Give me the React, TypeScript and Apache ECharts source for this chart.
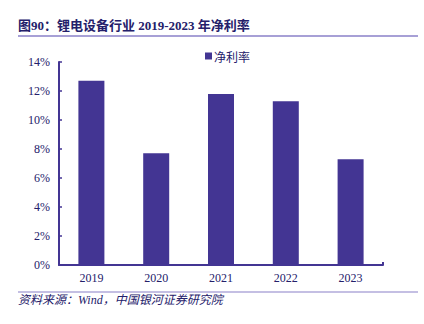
import React, { useEffect, useRef } from "react";
import * as echarts from "echarts";

const categories = ["2019", "2020", "2021", "2022", "2023"];
const netMargin = [12.7, 7.7, 11.8, 11.3, 7.3];
const seriesName = "净利率";
const titleText = "图90：锂电设备行业 2019-2023 年净利率";
const sourceText = "资料来源：Wind，中国银河证券研究院";

export default function App() {
  const ref = useRef<HTMLDivElement>(null);
  useEffect(() => {
    const chart = echarts.init(ref.current!, null, { renderer: "svg" });
    const textColor = "#24206a";
    const barColor = "#433593";
    const lineColor = "#8a80c8";
    chart.setOption({
      animation: false,
      backgroundColor: "#ffffff",
      legend: {
        data: [seriesName],
        top: 45,
        left: 200,
        itemWidth: 7,
        itemHeight: 7,
        itemGap: 2,
        icon: "rect",
        textStyle: { color: textColor, fontSize: 12, fontFamily: "Noto Sans CJK SC", padding: [0, 0, 0, -3] },
      },
      grid: { left: 59, right: 41, top: 62, bottom: 59, containLabel: false },
      xAxis: {
        type: "category",
        data: categories,
        axisLine: { lineStyle: { color: barColor, width: 2 } },
        axisTick: {
          show: true,
          inside: true,
          length: 3,
          interval: (i: number) => i === 2,
          lineStyle: { color: barColor, width: 2 },
        },
        axisLabel: { color: textColor, fontSize: 12, fontFamily: "Liberation Serif", margin: 7 },
      },
      yAxis: {
        type: "value",
        min: 0,
        max: 14,
        interval: 2,
        splitLine: { show: false },
        axisLine: { show: true, lineStyle: { color: barColor, width: 2 } },
        axisTick: { show: true, inside: true, length: 3, lineStyle: { color: barColor, width: 1.5 } },
        axisLabel: {
          color: textColor,
          fontSize: 12,
          fontFamily: "Liberation Serif",
          margin: 9,
          formatter: (v: number) => v + "%",
        },
      },
      series: [
        {
          name: seriesName,
          type: "bar",
          data: netMargin,
          barWidth: 26,
          itemStyle: { color: barColor },
        },
      ],
      graphic: [
        {
          type: "text",
          left: 18,
          top: 19,
          style: {
            text: titleText,
            fill: textColor,
            font: "bold 13px 'Liberation Serif', 'Noto Sans CJK SC'",
          },
        },
        {
          type: "line",
          shape: { x1: 18, y1: 36, x2: 418, y2: 36 },
          style: { stroke: lineColor, lineWidth: 1.5 },
        },
        {
          type: "line",
          shape: { x1: 18, y1: 292, x2: 418, y2: 292 },
          style: { stroke: lineColor, lineWidth: 1.2 },
        },
        {
          type: "text",
          left: 18,
          top: 294,
          style: {
            text: sourceText,
            fill: textColor,
            font: "italic 12px 'Liberation Serif', 'Noto Sans CJK SC'",
          },
        },
      ],
    });
    return () => chart.dispose();
  }, []);
  return <div ref={ref} style={{ width: 424, height: 324, position: "absolute", left: 0, top: 0 }} />;
}
